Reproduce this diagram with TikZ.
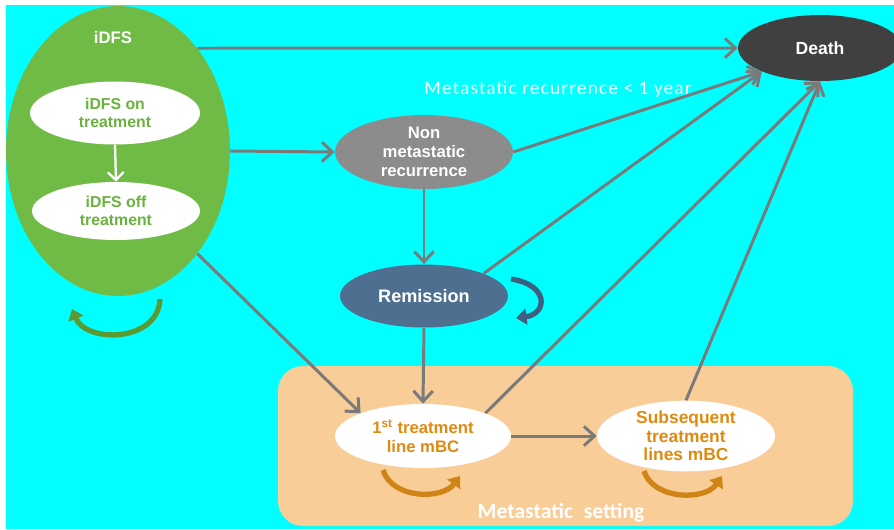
\documentclass[tikz,border=0pt]{standalone}
\usepackage{fontspec}
\setmainfont{Liberation Sans}
\newfontfamily\calibri{Carlito}
\newfontfamily\calibrilarga[LetterSpace=6]{Carlito}
\usetikzlibrary{shapes.geometric, positioning, arrows.meta}
\definecolor{ciano}{HTML}{00FFFF}
\definecolor{verde}{HTML}{70BB45}
\definecolor{verdetesto}{HTML}{6AB23E}
\definecolor{verdeciclo}{HTML}{5B9A32}
\definecolor{grigiomorte}{HTML}{404040}
\definecolor{grigiorec}{HTML}{8C8C8C}
\definecolor{blurem}{HTML}{4F6F91}
\definecolor{bluciclo}{HTML}{3F5F80}
\definecolor{arancio}{HTML}{F8CD97}
\definecolor{aranciotesto}{HTML}{E08A10}
\definecolor{aranciociclo}{HTML}{D08415}
\definecolor{grigiofreccia}{HTML}{7A7A7A}
\tikzset{
  stato/.style={ellipse, inner sep=0pt, align=center, font=\bfseries\fontsize{9}{11}\selectfont},
  flusso/.style={draw=grigiofreccia, line width=1.7pt, -{Straight Barb[length=6pt,width=11pt]}},
  ciclo/.style={line width=3pt, -{Triangle[length=6pt,width=9pt]}},
}
\begin{document}
\begin{tikzpicture}[x=0.02cm, y=-0.02cm]
        \useasboundingbox (0,0) rectangle (894,529);
        %sfondo
        \fill[white] (0,0) rectangle (894,529);
        \fill[ciano] (6,5) rectangle (894,529);
        %riquadro setting metastatico
        \fill[arancio, rounded corners=0.5cm] (278,366) rectangle (853,526);
        \node[white, font=\calibri\bfseries\fontsize{12.3}{14}\selectfont] (setting) at (561,513) {Metastatic\enspace setting};
        %stato iDFS
        \node[stato, fill=verde, minimum width=4.48cm, minimum height=5.8cm] (idfs) at (118,151) {};
        \node[white, font=\bfseries\fontsize{9.5}{11}\selectfont] (idfslbl) at (113,38) {iDFS};
        \node[stato, fill=white, text=verdetesto, minimum width=3.4cm, minimum height=1.26cm, font=\bfseries\fontsize{9}{10.2}\selectfont] (on) at (115,113) {iDFS on\\treatment};
        \node[stato, fill=white, text=verdetesto, minimum width=3.36cm, minimum height=1.16cm, font=\bfseries\fontsize{9}{10.2}\selectfont] (off) at (116,211) {iDFS off\\treatment};
        \draw[white, line width=1.3pt, -{Straight Barb[length=4.5pt,width=9pt]}] (on.south) -- (off.north);
        %altri stati
        \node[stato, fill=grigiomorte, text=white, minimum width=3.28cm, minimum height=1.32cm, font=\bfseries\fontsize{10}{12}\selectfont] (death) at (820,48) {Death};
        \node[stato, fill=grigiorec, text=white, minimum width=3.56cm, minimum height=1.48cm, font=\bfseries\fontsize{9.5}{10.8}\selectfont] (nonmet) at (424,152) {Non\\metastatic\\recurrence};
        \node[stato, fill=blurem, text=white, minimum width=3.36cm, minimum height=1.26cm, font=\bfseries\fontsize{10.3}{12}\selectfont] (remission) at (424,296) {Remission};
        \node[stato, fill=white, text=aranciotesto, minimum width=3.52cm, minimum height=1.28cm, font=\bfseries\fontsize{9.5}{10.6}\selectfont] (first) at (423,436) {1\textsuperscript{st} treatment\\line mBC};
        \node[stato, fill=white, text=aranciotesto, minimum width=3.56cm, minimum height=1.36cm, font=\bfseries\fontsize{9.9}{10.6}\selectfont] (subseq) at (686,436) {Subsequent\\treatment\\lines mBC};
        \node[white, font=\calibrilarga\fontsize{11}{13}\selectfont] (metlbl) at (558,89) {Metastatic recurrence < 1 year};
        %transizioni
        \draw[flusso] (idfs.north east) -- (death);
        \draw[flusso] (idfs.east) -- (nonmet.west);
        \draw[flusso] (idfs.south east) -- (first.north west);
        \draw[flusso] (nonmet.east) -- (death.south west);
        \draw[flusso] (nonmet.south) -- (remission.north);
        \draw[flusso] (remission.north east) -- (death.south west);
        \draw[flusso] (remission.south) -- (first.north);
        \draw[flusso] (first.east) -- (subseq.west);
        \draw[flusso] (first.north east) -- (death.south);
        \draw[flusso] (subseq.north) -- (death.south);
        %permanenza negli stati
        \draw[ciclo, verdeciclo] (160,299) .. controls (158,343) and (86,343) .. (72,309);
        \draw[ciclo, bluciclo] (511,279) .. controls (550,285) and (547,314) .. (516,318);
        \draw[ciclo, aranciociclo] (383,470) .. controls (392,499) and (442,500) .. (460,476);
        \draw[ciclo, aranciociclo] (644,471) .. controls (653,500) and (705,501) .. (722,476);
\end{tikzpicture}
\end{document}
